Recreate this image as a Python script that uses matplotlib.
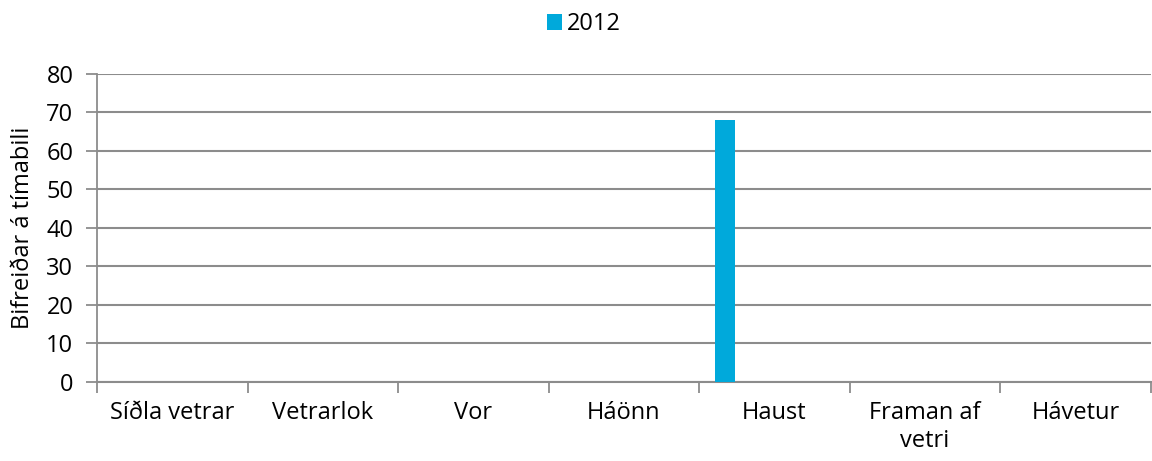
import matplotlib
matplotlib.use("Agg")
import matplotlib.pyplot as plt
import numpy as np

categories = ["Síðla vetrar", "Vetrarlok", "Vor", "Háönn", "Haust", "Framan af\nvetri", "Hávetur"]
series_name = "2012"
values_2012 = [0, 0, 0, 0, 68, 0, 0]
yticks = [0, 10, 20, 30, 40, 50, 60, 70, 80]
ylabel = "Bifreiðar á tímabili"

plt.rcParams['font.family'] = ['Open Sans', 'DejaVu Sans']
FS = 17
fig = plt.figure(figsize=(11.52, 4.61), dpi=100)
ax = fig.add_axes([0.0842, 0.172, 0.9148, 0.6675])

x = np.arange(len(categories))
bar_offset = -0.329
bar_width = 0.133
ax.bar(x + bar_offset, values_2012, width=bar_width, color="#00A9DB", zorder=3, label=series_name)

ax.set_xlim(-0.5, len(categories) - 0.5)
ax.set_ylim(0, 80)
ax.set_yticks(yticks)
ax.grid(axis='y', color='#8c8c8c', linewidth=1.5, zorder=0)
ax.set_axisbelow(True)
for s in ['top', 'right']:
    ax.spines[s].set_visible(False)
ax.spines['left'].set_color('#8c8c8c')
ax.spines['left'].set_linewidth(1.3)
ax.spines['bottom'].set_color('#8c8c8c')
ax.spines['bottom'].set_linewidth(1.5)

ax.set_xticks(x)
ax.set_xticklabels(categories, fontsize=FS, linespacing=1.2)
ax.tick_params(axis='x', which='major', length=0, pad=14)
ax.set_xticks(np.arange(-0.5, len(categories)), minor=True)
ax.tick_params(axis='x', which='minor', length=8, color='#8c8c8c', width=1.3)
ax.tick_params(axis='y', length=8, color='#8c8c8c', width=1.3, labelsize=FS, pad=9)

ax.set_ylabel(ylabel, fontsize=FS, labelpad=8)

fig.legend(loc='upper center', bbox_to_anchor=(0.507, 1.02), frameon=False, fontsize=FS,
           handlelength=0.65, handleheight=0.65, handletextpad=0.2)

fig.savefig("out.png", dpi=100)
